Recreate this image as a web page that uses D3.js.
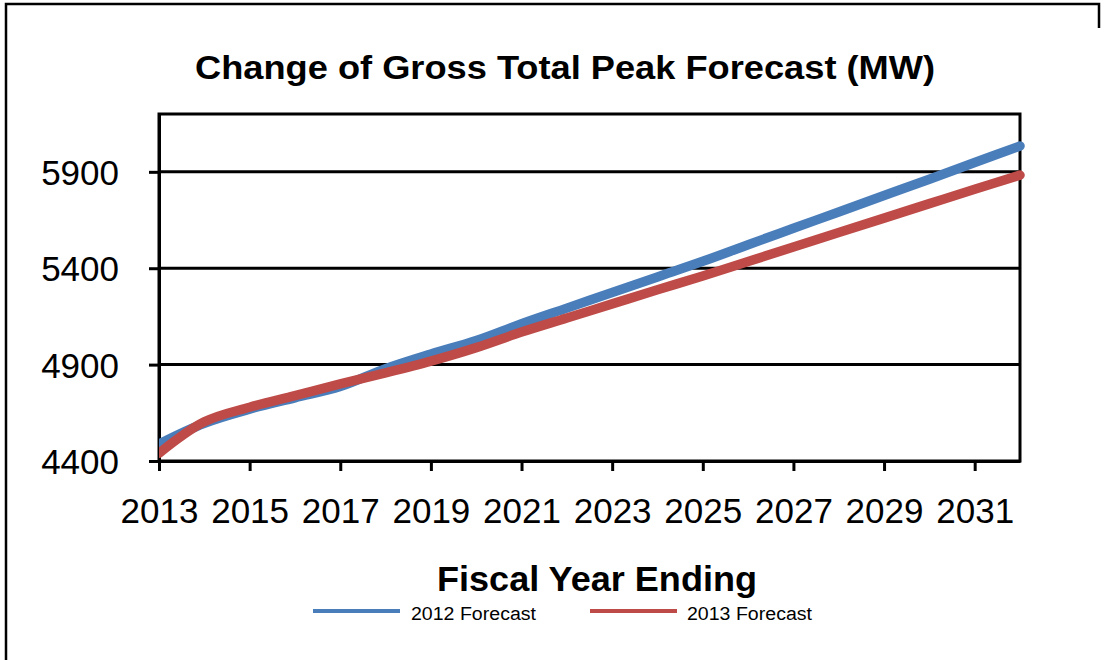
<!DOCTYPE html>
<html>
<head>
<meta charset="utf-8">
<script src="https://cdn.jsdelivr.net/npm/d3@7"></script>
<style>
  html, body { margin: 0; padding: 0; background: #fff; }
  svg { display: block; }
  text { font-family: "Liberation Sans", Arial, sans-serif; fill: #000; }
</style>
</head>
<body>
<svg id="chart" width="1104" height="660"></svg>
<script>
// Fiscal years on the horizontal axis
const years = [2013, 2014, 2015, 2016, 2017, 2018, 2019, 2020, 2021, 2022,
               2023, 2024, 2025, 2026, 2027, 2028, 2029, 2030, 2031, 2032];

// Gross total peak forecast (MW)
const forecast2012 = [4488, 4596, 4669, 4728, 4786, 4879, 4955, 5025, 5112, 5193,
                      5274, 5355, 5436, 5522, 5607, 5692, 5777, 5862, 5948, 6034];
const forecast2013 = [4440, 4603, 4679, 4739, 4800, 4857, 4918, 4988, 5069, 5142,
                      5215, 5288, 5360, 5435, 5510, 5585, 5660, 5735, 5810, 5883];

const xTickValues = [2013, 2015, 2017, 2019, 2021, 2023, 2025, 2027, 2029, 2031];
const yTickValues = [4400, 4900, 5400, 5900];

const seriesNames = ["2012  Forecast", "2013  Forecast"];
const seriesColors = ["#4a7ebb", "#be4b48"];

const svg = d3.select("#chart");

// outer chart frame
svg.append("path")
  .attr("d", "M6,700 L6,4 L1099,4 L1099,28")
  .attr("fill", "none").attr("stroke", "#000").attr("stroke-width", 2.5);

const plot = { left: 159, right: 1020, top: 114, bottom: 461 };

const x = d3.scaleLinear().domain([2013, 2032]).range([plot.left, plot.right]);
const y = d3.scaleLinear().domain([4400, 6200]).range([plot.bottom, plot.top]);

// title
svg.append("text")
  .attr("x", 565).attr("y", 79)
  .attr("text-anchor", "middle")
  .attr("font-size", 34).attr("font-weight", "bold")
  .attr("textLength", 740).attr("lengthAdjust", "spacingAndGlyphs")
  .text("Change of Gross Total Peak Forecast (MW)");

// horizontal gridlines
svg.append("g")
  .selectAll("line")
  .data(yTickValues.slice(1))
  .join("line")
  .attr("x1", plot.left).attr("x2", plot.right)
  .attr("y1", d => y(d)).attr("y2", d => y(d))
  .attr("stroke", "#000").attr("stroke-width", 3);

// plot area border
svg.append("rect")
  .attr("x", plot.left).attr("y", plot.top)
  .attr("width", plot.right - plot.left).attr("height", plot.bottom - plot.top)
  .attr("fill", "none").attr("stroke", "#000").attr("stroke-width", 3);

// y axis
const yAxis = svg.append("g")
  .attr("transform", `translate(${plot.left},0)`)
  .call(d3.axisLeft(y).tickValues(yTickValues).tickSizeInner(10).tickSizeOuter(0)
    .tickPadding(30).tickFormat(d3.format("d")));
yAxis.select(".domain").attr("stroke", "#000").attr("stroke-width", 3);
yAxis.selectAll(".tick line").attr("stroke", "#000").attr("stroke-width", 3);
yAxis.selectAll(".tick text")
  .attr("font-size", 35).attr("font-family", "Liberation Sans, Arial, sans-serif")
  .attr("dy", "0.36em").attr("fill", "#000");

// x axis
const xAxis = svg.append("g")
  .attr("transform", `translate(0,${plot.bottom})`)
  .call(d3.axisBottom(x).tickValues(xTickValues).tickSizeInner(10).tickSizeOuter(0)
    .tickPadding(27).tickFormat(d3.format("d")));
xAxis.select(".domain").attr("stroke", "#000").attr("stroke-width", 3);
xAxis.selectAll(".tick line").attr("stroke", "#000").attr("stroke-width", 3);
xAxis.selectAll(".tick text")
  .attr("font-size", 35).attr("font-family", "Liberation Sans, Arial, sans-serif")
  .attr("fill", "#000");

// x axis title
svg.append("text")
  .attr("x", 597).attr("y", 591)
  .attr("text-anchor", "middle")
  .attr("font-size", 35).attr("font-weight", "bold")
  .attr("textLength", 320).attr("lengthAdjust", "spacingAndGlyphs")
  .text("Fiscal Year Ending");

// series lines, clipped at the left axis
svg.append("clipPath").attr("id", "leftClip")
  .append("rect").attr("x", plot.left).attr("y", 0).attr("width", 1104 - plot.left).attr("height", 660);

const line = d3.line()
  .x((d, i) => x(years[i]))
  .y(d => y(d))
  .curve(d3.curveCatmullRom.alpha(0.5));
const seriesData = [forecast2012, forecast2013];

svg.append("g").attr("clip-path", "url(#leftClip)")
  .selectAll("path")
  .data(seriesData)
  .join("path")
  .attr("d", line)
  .attr("fill", "none")
  .attr("stroke", (d, i) => seriesColors[i])
  .attr("stroke-width", 9.5)
  .attr("stroke-linecap", "round")
  .attr("stroke-linejoin", "round");

// legend
const legendPos = [{ lx: 313, tx: 411, tl: 125 }, { lx: 590, tx: 687, tl: 125 }];
const legend = svg.append("g");
legendPos.forEach((p, i) => {
  legend.append("line")
    .attr("x1", p.lx).attr("x2", p.lx + 87)
    .attr("y1", 611).attr("y2", 611)
    .attr("stroke", seriesColors[i]).attr("stroke-width", 4);
  legend.append("text")
    .attr("x", p.tx).attr("y", 620)
    .attr("font-size", 18)
    .attr("textLength", p.tl).attr("lengthAdjust", "spacingAndGlyphs")
    .text(seriesNames[i]);
});
</script>
</body>
</html>
